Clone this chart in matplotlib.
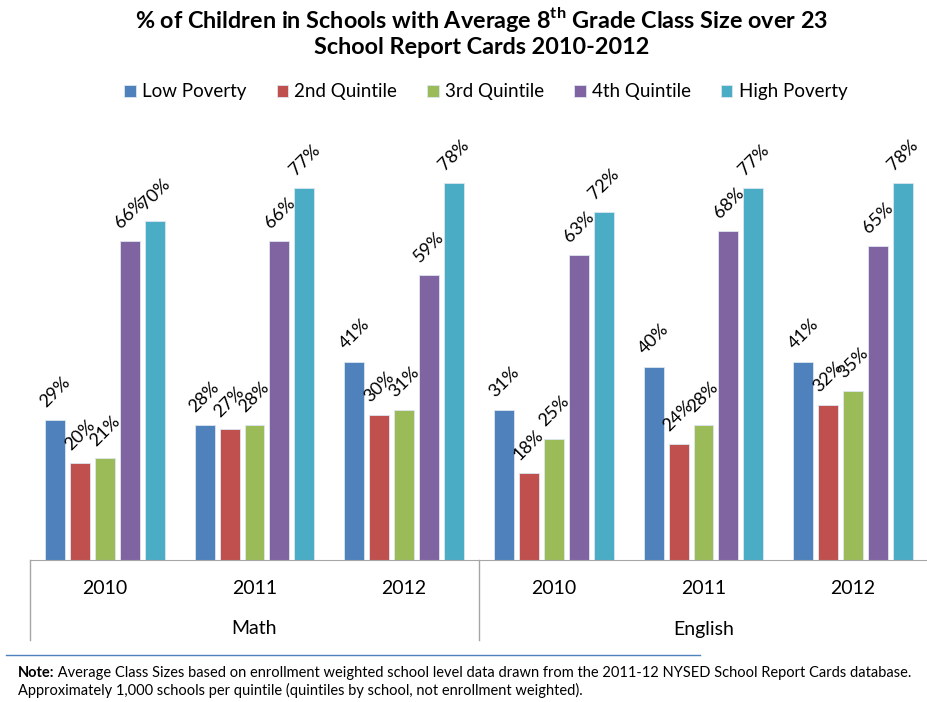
import matplotlib
matplotlib.use("Agg")
import matplotlib.pyplot as plt
import numpy as np

plt.rcParams["font.family"] = ["Lato", "DejaVu Sans"]
plt.rcParams["mathtext.fontset"] = "custom"
plt.rcParams["mathtext.bf"] = "Lato:bold"
plt.rcParams["mathtext.rm"] = "Lato"

subjects = ["Math", "English"]
years = ["2010", "2011", "2012"]
series_names = ["Low Poverty", "2nd Quintile", "3rd Quintile", "4th Quintile", "High Poverty"]
series_colors = ["#4F81BD", "#C0504D", "#9BBB59", "#8064A2", "#4BACC6"]

# one value per subject/year group: Math 2010-2012, then English 2010-2012
low_poverty = [29, 28, 41, 31, 40, 41]
second_quintile = [20, 27, 30, 18, 24, 32]
third_quintile = [21, 28, 31, 25, 28, 35]
fourth_quintile = [66, 66, 59, 63, 68, 65]
high_poverty = [70, 77, 78, 72, 77, 78]

series_values = [low_poverty, second_quintile, third_quintile, fourth_quintile, high_poverty]

fig = plt.figure(figsize=(9.28, 7.02), dpi=100)
ax = fig.add_axes([30 / 928, 1 - 560 / 702, 1 - 30 / 928, (560 - 115) / 702])

n_groups = len(subjects) * len(years)
centers = np.arange(n_groups) + 0.5
pitch = 25 / 149.7
width = 20 / 149.7

for j, (name, vals, color) in enumerate(zip(series_names, series_values, series_colors)):
    xs = centers + (j - 2) * pitch
    ax.bar(xs, vals, width=width, color=color, edgecolor="#DDE6F0", linewidth=0.6, label=name)
    for x, v in zip(xs, vals):
        ax.annotate(f"{v}%", xy=(x, v), xytext=(0, 7), textcoords="offset points",
                    ha="center", va="bottom", rotation=45, fontsize=13)

ax.set_xlim(0, n_groups)
ax.set_ylim(0, 92)
ax.set_yticks([])
ax.set_xticks([])
for side in ["left", "right", "top"]:
    ax.spines[side].set_visible(False)
ax.spines["bottom"].set_color("#A6A6A6")

# two-level category axis: years, then subjects
line_kw = dict(color="#A6A6A6", linewidth=1, clip_on=False, transform=ax.get_xaxis_transform())
for xb in [0, 3, 6]:
    ax.plot([xb, xb], [0, -80 / 445], **line_kw)
for i, c in enumerate(centers):
    ax.text(c, -29 / 445, years[i % 3], transform=ax.get_xaxis_transform(),
            ha="center", va="center", fontsize=14)
for k, subj in enumerate(subjects):
    ax.text(3 * k + 1.5, -69 / 445, subj, transform=ax.get_xaxis_transform(),
            ha="center", va="center", fontsize=14)

fig.text(482 / 928, 1 - 19 / 702, r"% of Children in Schools with Average 8$^{\mathbf{th}}$ Grade Class Size over 23",
         ha="center", va="center", fontsize=16.8, fontweight="bold")
fig.text(482 / 928, 1 - 48 / 702, "School Report Cards 2010-2012",
         ha="center", va="center", fontsize=16.8, fontweight="bold")

fig.legend(loc="center", bbox_to_anchor=(486 / 928, 1 - 92 / 702), ncol=5, frameon=False,
           fontsize=13.5, handlelength=0.6, handleheight=0.6, handletextpad=0.35,
           columnspacing=1.6)

# footnote with separator rule
fig.add_artist(plt.Line2D([6 / 928, 700 / 928], [1 - 655 / 702, 1 - 655 / 702],
                          color="#4F81BD", linewidth=1))
note = fig.text(18 / 928, 1 - 673 / 702, "Note:", fontweight="bold", fontsize=10.5, va="center")
ax.annotate(" Average Class Sizes based on enrollment weighted school level data drawn from the 2011-12 NYSED School Report Cards database.",
            xy=(1, 0.5), xycoords=note, va="center", fontsize=10.5, annotation_clip=False)
fig.text(18 / 928, 1 - 690 / 702,
         "Approximately 1,000 schools per quintile (quintiles by school, not enrollment weighted).",
         va="center", fontsize=10.5)

fig.savefig("out.png", dpi=100)
